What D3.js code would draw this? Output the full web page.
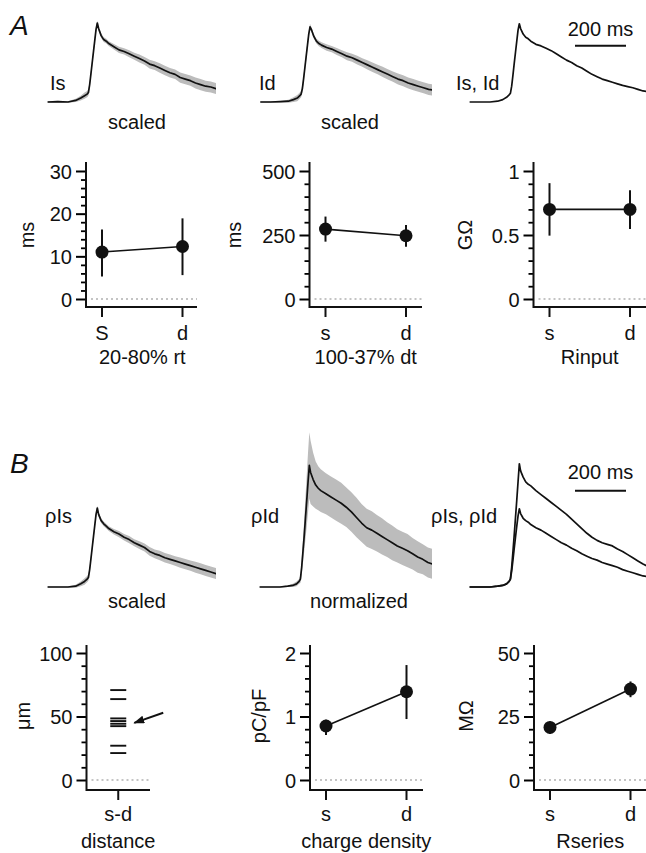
<!DOCTYPE html>
<html>
<head>
<meta charset="utf-8">
<script src="https://cdn.jsdelivr.net/npm/d3@7"></script>
<style>
body { margin: 0; background: #fff; }
text { font-family: "Liberation Sans", Arial, sans-serif; fill: #111; }
</style>
</head>
<body>
<script>
const width = 646, height = 853;
const fs = 20;

// ---- averaged current traces (time in ms, amplitude normalised to the soma peak)
const traceTime = [0, 40, 80, 110, 130, 145, 155, 160, 165, 170, 175, 180, 185, 190, 195, 200, 210, 220, 230, 240,
  260, 280, 300, 320, 340, 360, 380, 400, 420, 440, 460, 480, 500, 520, 540, 560, 580, 600, 620, 640, 660, 680, 700];

const isMean = [0, 0.005, 0, 0.02, 0.05, 0.08, 0.1, 0.12, 0.22, 0.36, 0.5, 0.64, 0.78, 0.92, 1.0, 0.93, 0.84, 0.79, 0.77, 0.74,
  0.70, 0.66, 0.64, 0.61, 0.58, 0.55, 0.52, 0.48, 0.46, 0.43, 0.40, 0.37, 0.35, 0.31, 0.29, 0.27, 0.24, 0.22, 0.20, 0.19, 0.17, 0.16, 0.15];
const isSd = [0.01, 0.01, 0.01, 0.02, 0.03, 0.04, 0.04, 0.04, 0.04, 0.04, 0.04, 0.04, 0.04, 0.04, 0.03, 0.03, 0.03, 0.03, 0.03, 0.03,
  0.035, 0.04, 0.04, 0.045, 0.045, 0.05, 0.05, 0.055, 0.055, 0.06, 0.06, 0.06, 0.06, 0.065, 0.065, 0.065, 0.07, 0.07, 0.07, 0.07, 0.07, 0.07, 0.07];

const idMean = [0, 0, 0.005, 0.01, 0.03, 0.05, 0.08, 0.1, 0.17, 0.3, 0.44, 0.58, 0.72, 0.86, 0.95, 0.92, 0.83, 0.77, 0.74, 0.72,
  0.69, 0.67, 0.64, 0.61, 0.58, 0.56, 0.53, 0.50, 0.47, 0.44, 0.41, 0.38, 0.35, 0.32, 0.29, 0.27, 0.24, 0.22, 0.20, 0.18, 0.16, 0.15, 0.14];
const idSd = [0.01, 0.01, 0.01, 0.02, 0.03, 0.04, 0.04, 0.04, 0.05, 0.05, 0.05, 0.05, 0.05, 0.04, 0.04, 0.03, 0.03, 0.03, 0.035, 0.035,
  0.04, 0.04, 0.045, 0.045, 0.05, 0.05, 0.055, 0.055, 0.06, 0.06, 0.06, 0.065, 0.065, 0.065, 0.07, 0.07, 0.07, 0.07, 0.07, 0.07, 0.07, 0.07, 0.07];

const isIdMean = [0, 0, 0, 0.01, 0.03, 0.06, 0.09, 0.11, 0.2, 0.34, 0.49, 0.63, 0.77, 0.91, 0.99, 0.93, 0.86, 0.82, 0.8, 0.77,
  0.73, 0.71, 0.68, 0.65, 0.61, 0.57, 0.53, 0.50, 0.46, 0.43, 0.39, 0.35, 0.32, 0.29, 0.27, 0.25, 0.23, 0.21, 0.195, 0.18, 0.16, 0.14, 0.13];

const rhoIsMean = [0, 0, 0, 0.01, 0.04, 0.07, 0.1, 0.12, 0.22, 0.36, 0.5, 0.64, 0.78, 0.92, 1.0, 0.92, 0.84, 0.8, 0.77, 0.74,
  0.70, 0.67, 0.63, 0.60, 0.56, 0.53, 0.50, 0.45, 0.42, 0.40, 0.37, 0.35, 0.33, 0.31, 0.29, 0.27, 0.25, 0.23, 0.21, 0.19, 0.17, 0.16, 0.15];
const rhoIsSd = isSd;

const rhoIdMean = [0, 0, 0, 0.01, 0.02, 0.04, 0.07, 0.1, 0.25, 0.45, 0.65, 0.88, 1.1, 1.33, 1.54, 1.45, 1.36, 1.29, 1.25, 1.22,
  1.18, 1.14, 1.10, 1.06, 1.01, 0.95, 0.88, 0.81, 0.75, 0.72, 0.68, 0.64, 0.60, 0.56, 0.52, 0.49, 0.46, 0.42, 0.38, 0.35, 0.31, 0.29, 0.27];
const rhoIdSd = [0.01, 0.01, 0.01, 0.01, 0.02, 0.03, 0.03, 0.05, 0.1, 0.15, 0.2, 0.27, 0.33, 0.38, 0.42, 0.4, 0.34, 0.3, 0.28, 0.27,
  0.26, 0.26, 0.26, 0.26, 0.25, 0.25, 0.25, 0.24, 0.24, 0.24, 0.23, 0.23, 0.22, 0.22, 0.21, 0.21, 0.21, 0.2, 0.2, 0.19, 0.19, 0.19, 0.19];

const rhoIdTrace = [0, 0, 0, 0.01, 0.02, 0.04, 0.07, 0.1, 0.25, 0.45, 0.66, 0.88, 1.1, 1.33, 1.56, 1.47, 1.39, 1.33, 1.3, 1.28,
  1.22, 1.17, 1.12, 1.07, 1.02, 0.97, 0.92, 0.86, 0.8, 0.74, 0.68, 0.63, 0.59, 0.56, 0.54, 0.52, 0.48, 0.45, 0.41, 0.37, 0.33, 0.29, 0.26];
const rhoIsTrace = [0, 0, 0, 0.01, 0.02, 0.04, 0.07, 0.1, 0.2, 0.34, 0.49, 0.63, 0.77, 0.9, 0.99, 0.93, 0.87, 0.84, 0.82, 0.79,
  0.75, 0.72, 0.68, 0.64, 0.60, 0.56, 0.53, 0.49, 0.46, 0.42, 0.39, 0.36, 0.34, 0.31, 0.29, 0.27, 0.25, 0.22, 0.20, 0.18, 0.16, 0.14, 0.13];

// ---- summary values (mean, lower and upper end of error bar)
const sites = ["S", "d"];
const sitesLower = ["s", "d"];
const riseMean = [11.0, 12.3], riseLo = [5.3, 5.6], riseHi = [16.3, 18.9];
const decayMean = [273, 247], decayLo = [224, 204], decayHi = [322, 289];
const rinMean = [0.70, 0.70], rinLo = [0.495, 0.546], rinHi = [0.905, 0.85];
const distances = [70.8, 63.7, 48.5, 46.4, 44.3, 42.4, 27.0, 21.2];
const chargeMean = [0.85, 1.39], chargeLo = [0.71, 0.96], chargeHi = [0.95, 1.81];
const rsMean = [20.7, 35.8], rsLo = [18.2, 32.6], rsHi = [23.0, 38.8];

const svg = d3.select("body").append("svg")
    .attr("width", width)
    .attr("height", height);

svg.append("text").attr("x", 10).attr("y", 35).attr("font-size", 28).attr("font-style", "italic").text("A");
svg.append("text").attr("x", 10).attr("y", 473).attr("font-size", 28).attr("font-style", "italic").text("B");

// ---------- traces
const traceRows = {
  A: {base: 102, one: 23, label: 90, note: 129, barText: 36, bar: 45.7},
  B: {base: 587, one: 508, label: 522.7, note: 608, barText: 479, bar: 490.7}
};

const traces = [
  {row: "A", x0: 47.6, right: 216, label: "Is", labelX: 50, note: "scaled", noteX: 137, lines: [[isMean, isSd]]},
  {row: "A", x0: 260.3, right: 432, label: "Id", labelX: 259, note: "scaled", noteX: 350, lines: [[idMean, idSd]]},
  {row: "A", x0: 469.6, right: 646, label: "Is, Id", labelX: 456, scaleBar: true, lines: [[isIdMean, null]]},
  {row: "B", x0: 47.6, right: 216, label: "ρIs", labelX: 45, note: "scaled", noteX: 137, lines: [[rhoIsMean, rhoIsSd]]},
  {row: "B", x0: 259.6, right: 432, label: "ρId", labelX: 251, note: "normalized", noteX: 359, lines: [[rhoIdMean, rhoIdSd]]},
  {row: "B", x0: 469.6, right: 646, label: "ρIs, ρId", labelX: 431, scaleBar: true, lines: [[rhoIdTrace, null], [rhoIsTrace, null]]}
];

const defs = svg.append("defs");

traces.forEach((tr, k) => {
  const r = traceRows[tr.row];
  const x = d3.scaleLinear().domain([0, 200]).range([tr.x0, tr.x0 + 51]);
  const y = d3.scaleLinear().domain([0, 1]).range([r.base, r.one]);

  defs.append("clipPath").attr("id", "clip" + k)
    .append("rect").attr("x", tr.x0 - 2).attr("y", 0).attr("width", tr.right - tr.x0 + 2).attr("height", height);

  const g = svg.append("g").attr("clip-path", `url(#clip${k})`);

  tr.lines.forEach(([mean, sd]) => {
    if (sd) {
      const area = d3.area()
        .x((d, i) => x(traceTime[i]))
        .y0((d, i) => y(d - sd[i]))
        .y1((d, i) => y(d + sd[i]));
      g.append("path").datum(mean).attr("d", area).attr("fill", "#bcbcbc");
    }
  });
  tr.lines.forEach(([mean]) => {
    const line = d3.line().x((d, i) => x(traceTime[i])).y(d => y(d));
    g.append("path").datum(mean).attr("d", line)
      .attr("fill", "none").attr("stroke", "#111").attr("stroke-width", 1.7).attr("stroke-linejoin", "round");
  });

  svg.append("text").attr("x", tr.labelX).attr("y", r.label).attr("font-size", fs).text(tr.label);
  if (tr.note) {
    svg.append("text").attr("x", tr.noteX).attr("y", r.note).attr("font-size", fs)
      .attr("text-anchor", "middle").text(tr.note);
  }
  if (tr.scaleBar) {
    const bx = 575;
    svg.append("line").attr("x1", bx).attr("x2", bx + (x(200) - x(0))).attr("y1", r.bar).attr("y2", r.bar)
      .attr("stroke", "#111").attr("stroke-width", 2);
    svg.append("text").attr("x", bx + (x(200) - x(0)) / 2).attr("y", r.barText).attr("font-size", fs)
      .attr("text-anchor", "middle").text("200 ms");
  }
});

// ---------- summary plots
const sumRows = {
  A: {zero: 299, top: 171, axisTop: 162, xAxis: 307, tickLabel: 340, title: 364, unitY: 235},
  B: {zero: 780, top: 653, axisTop: 645, xAxis: 790, tickLabel: 821, title: 848, unitY: 716}
};

const panels = [
  {row: "A", axisX: 86, right: 197, max: 30, major: [0, 10, 20, 30], unit: "ms", unitX: 27, title: "20-80% rt",
    cats: sites, mean: riseMean, lo: riseLo, hi: riseHi},
  {row: "A", axisX: 309.5, right: 422, max: 500, major: [0, 250, 500], unit: "ms", unitX: 234, title: "100-37% dt",
    cats: sitesLower, mean: decayMean, lo: decayLo, hi: decayHi},
  {row: "A", axisX: 533.5, right: 646, max: 1, major: [0, 0.5, 1], unit: "GΩ", unitX: 465, title: "Rinput",
    cats: sitesLower, mean: rinMean, lo: rinLo, hi: rinHi},
  {row: "B", axisX: 86.5, right: 150, max: 100, major: [0, 50, 100], unit: "μm", unitX: 23, title: "distance",
    cats: ["s-d"], bars: distances},
  {row: "B", axisX: 310, right: 423, max: 2, major: [0, 1, 2], unit: "pC/pF", unitX: 259, title: "charge density",
    cats: sitesLower, mean: chargeMean, lo: chargeLo, hi: chargeHi},
  {row: "B", axisX: 534, right: 646, max: 50, major: [0, 25, 50], unit: "MΩ", unitX: 466, title: "Rseries",
    cats: sitesLower, mean: rsMean, lo: rsLo, hi: rsHi}
];

defs.append("marker").attr("id", "arrow")
    .attr("viewBox", "0 0 11 8").attr("refX", 10).attr("refY", 4)
    .attr("markerWidth", 11).attr("markerHeight", 8)
    .attr("markerUnits", "userSpaceOnUse").attr("orient", "auto")
  .append("path").attr("d", "M0,0L11,4L0,8z").attr("fill", "#111");

panels.forEach(p => {
  const r = sumRows[p.row];
  const y = d3.scaleLinear().domain([0, p.max]).range([r.zero, r.top]);
  const x = p.bars
    ? d3.scalePoint().domain(p.cats).range([p.axisX, p.right]).padding(0.5)
    : d3.scalePoint().domain(p.cats).range([p.axisX + 16, p.axisX + 96.5]);
  const g = svg.append("g");

  // dotted zero line
  g.append("line").attr("x1", p.axisX + 5).attr("x2", p.right).attr("y1", y(0)).attr("y2", y(0))
    .attr("stroke", "#8a8a8a").attr("stroke-width", 1.2).attr("stroke-dasharray", "2,3");

  // minor ticks, four between each pair of labelled ticks
  const nMinor = (p.major.length - 1) * 5;
  const minorVals = d3.range(1, nMinor).filter(i => i % 5 !== 0).map(i => i * p.max / nMinor);
  g.append("g").attr("transform", `translate(${p.axisX},0)`)
    .call(d3.axisLeft(y).tickValues(minorVals).tickSize(5).tickFormat(""))
    .call(s => s.select(".domain").remove())
    .selectAll("line").attr("stroke-width", 1.8);

  const yAx = g.append("g").attr("transform", `translate(${p.axisX},0)`)
    .call(d3.axisLeft(y).tickValues(p.major).tickSize(10).tickPadding(4).tickFormat(d => String(d)))
    .call(s => s.select(".domain").remove())
    .attr("font-size", fs).attr("font-family", null);
  yAx.selectAll("line").attr("stroke-width", 2);
  yAx.selectAll("text").attr("fill", "#111").attr("dy", "0.36em");

  // axis frame
  g.append("path").attr("d", `M${p.axisX},${r.axisTop}V${r.xAxis}H${p.right}`)
    .attr("fill", "none").attr("stroke", "#111").attr("stroke-width", 2);

  p.cats.forEach(c => {
    g.append("line").attr("x1", x(c)).attr("x2", x(c)).attr("y1", r.xAxis).attr("y2", r.xAxis + 10)
      .attr("stroke", "#111").attr("stroke-width", 2);
    g.append("text").attr("x", x(c)).attr("y", r.tickLabel).attr("font-size", fs)
      .attr("text-anchor", "middle").text(c);
  });

  const xMid = p.bars ? x(p.cats[0]) : (x(p.cats[0]) + x(p.cats[p.cats.length - 1])) / 2;
  g.append("text").attr("x", xMid).attr("y", r.title).attr("font-size", fs)
    .attr("text-anchor", "middle").text(p.title);

  g.append("text").attr("transform", `translate(${p.unitX},${r.unitY}) rotate(-90)`)
    .attr("dy", "0.35em").attr("font-size", fs).attr("text-anchor", "middle").text(p.unit);

  if (p.bars) {
    const cx = x(p.cats[0]);
    g.selectAll("line.dist").data(p.bars).join("line").attr("class", "dist")
      .attr("x1", cx - 8).attr("x2", cx + 8)
      .attr("y1", d => y(d)).attr("y2", d => y(d))
      .attr("stroke", "#111").attr("stroke-width", 1.9);
    g.append("line")
      .attr("x1", cx + 45).attr("y1", y(53))
      .attr("x2", cx + 16).attr("y2", y(45))
      .attr("stroke", "#111").attr("stroke-width", 2).attr("marker-end", "url(#arrow)");
    return;
  }

  p.cats.forEach((c, i) => {
    g.append("line").attr("x1", x(c)).attr("x2", x(c)).attr("y1", y(p.lo[i])).attr("y2", y(p.hi[i]))
      .attr("stroke", "#111").attr("stroke-width", 2);
  });
  g.append("path").datum(p.mean)
    .attr("d", d3.line().x((d, i) => x(p.cats[i])).y(d => y(d)))
    .attr("fill", "none").attr("stroke", "#111").attr("stroke-width", 1.6);
  g.selectAll("circle").data(p.mean).join("circle")
    .attr("cx", (d, i) => x(p.cats[i])).attr("cy", d => y(d)).attr("r", 6.5).attr("fill", "#111");
});
</script>
</body>
</html>
